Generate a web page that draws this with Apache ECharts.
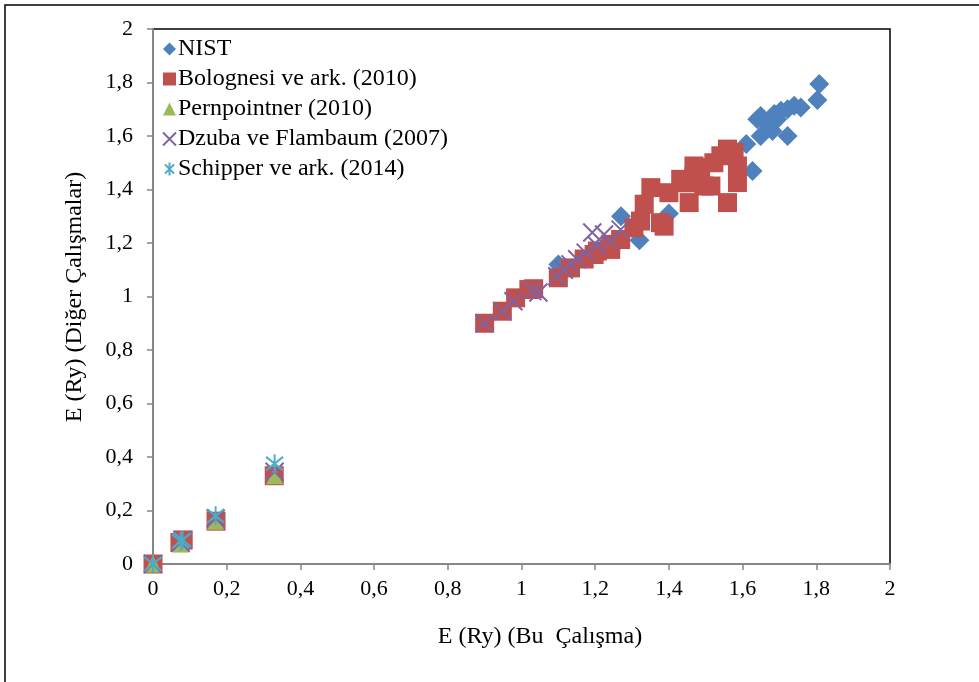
<!DOCTYPE html>
<html>
<head>
<meta charset="utf-8">
<script src="https://cdn.jsdelivr.net/npm/echarts@6/dist/echarts.min.js"></script>
<style>
html,body{margin:0;padding:0;background:#fff;}
#chart{width:979px;height:682px;}
</style>
</head>
<body>
<div id="chart"></div>
<script>
var xTitle = "E (Ry) (Bu  Çalışma)";
var yTitle = "E (Ry) (Diğer Çalışmalar)";
var seriesNames = ["NIST", "Bolognesi ve ark. (2010)", "Pernpointner (2010)", "Dzuba ve Flambaum (2007)", "Schipper ve ark. (2014)"];

var nist = [[1.10,1.12],[1.27,1.30],[1.32,1.21],[1.40,1.31],[1.61,1.57],[1.627,1.469],[1.64,1.663],[1.649,1.675],
  [1.649,1.60],[1.667,1.644],[1.681,1.619],[1.686,1.682],[1.694,1.663],[1.704,1.694],[1.722,1.70],[1.722,1.60],
  [1.74,1.713],[1.758,1.707],[1.803,1.735],[1.808,1.794]];
var bolognesi = [[0,0],[0.073,0.08],[0.082,0.09],[0.171,0.16],[0.329,0.33],
  [0.90,0.90],[0.948,0.945],[0.984,0.995],[1.02,1.026],[1.033,1.029],[1.10,1.07],[1.133,1.107],[1.17,1.14],
  [1.197,1.157],[1.206,1.17],[1.242,1.176],[1.242,1.195],[1.269,1.213],[1.305,1.257],[1.323,1.282],[1.333,1.345],
  [1.351,1.407],[1.377,1.276],[1.387,1.263],[1.40,1.388],[1.432,1.438],[1.45,1.425],[1.455,1.351],[1.468,1.488],
  [1.468,1.451],[1.486,1.482],[1.495,1.413],[1.514,1.413],[1.522,1.50],[1.541,1.526],[1.559,1.551],[1.577,1.538],
  [1.586,1.488],[1.586,1.426],[1.559,1.351]];
var pernpointner = [[0,0],[0.075,0.075],[0.17,0.16],[0.33,0.33]];
var dzuba = [[0,0],[0.075,0.08],[0.08,0.09],[0.17,0.17],[0.33,0.345],
  [0.90,0.90],[0.948,0.945],[0.978,0.982],[1.029,1.02],[1.046,1.015],[1.097,1.076],[1.115,1.10],[1.133,1.12],
  [1.151,1.139],[1.174,1.164],[1.192,1.239],[1.206,1.189],[1.224,1.232],[1.242,1.207],[1.269,1.25]];
var schipper = [[0,0],[0.075,0.085],[0.08,0.09],[0.17,0.18],[0.33,0.375]];

var xTicks = {min:0, max:2, interval:0.2};
var yTicks = {min:0, max:2, interval:0.2};

function fmt(v){ var r = Math.round(v*10)/10; return String(r).replace('.', ','); }

var FONT = '"Liberation Serif", "Times New Roman", serif';
var chart = echarts.init(document.getElementById('chart'), null, {renderer:'canvas'});
var axisGray = '#868686';

var option = {
  animation:false,
  backgroundColor:'#fff',
  grid:{left:153, top:29, right:89, bottom:118, show:true, borderColor:'#000', borderWidth:1.5, backgroundColor:'transparent'},
  xAxis:{type:'value', min:xTicks.min, max:xTicks.max, interval:xTicks.interval,
    axisLine:{show:true, onZero:false, lineStyle:{color:axisGray, width:2}},
    axisTick:{show:true, inside:false, length:6, lineStyle:{color:axisGray, width:1.5}},
    axisLabel:{formatter:fmt, color:'#000', fontFamily:FONT, fontSize:22, margin:14},
    splitLine:{show:false}},
  yAxis:{type:'value', min:yTicks.min, max:yTicks.max, interval:yTicks.interval,
    axisLine:{show:true, onZero:false, lineStyle:{color:axisGray, width:2}},
    axisTick:{show:true, inside:false, length:6, lineStyle:{color:axisGray, width:1.5}},
    axisLabel:{formatter:fmt, color:'#000', fontFamily:FONT, fontSize:22, margin:20},
    splitLine:{show:false}},
  legend:{orient:'vertical', left:157, top:32, itemGap:6, itemWidth:13, itemHeight:13,
    textStyle:{color:'#000', fontFamily:FONT, fontSize:24, padding:[0,0,0,-3]},
    data:seriesNames},
  graphic:[
    {type:'rect', shape:{x:5, y:5, width:990, height:700}, style:{fill:'none', stroke:'#000', lineWidth:1.5}, silent:true, z:-1},
    {type:'text', x:540, y:637, style:{text:xTitle, font:'24px "Liberation Serif"', fill:'#000', textAlign:'center', textVerticalAlign:'middle'}},
    {type:'text', x:75, y:297, rotation:Math.PI/2, style:{text:yTitle, font:'24px "Liberation Serif"', fill:'#000', textAlign:'center', textVerticalAlign:'middle'}}
  ],
  series:[
    {name:seriesNames[0], type:'scatter', data:nist, symbol:'diamond', symbolSize:20,
      itemStyle:{color:'#4F81BD', opacity:1}},
    {name:seriesNames[1], type:'scatter', data:bolognesi, symbol:'rect', symbolSize:19,
      itemStyle:{color:'#C0504D', opacity:1}},
    {name:seriesNames[2], type:'scatter', data:pernpointner, symbol:'triangle', symbolSize:17,
      itemStyle:{color:'#9BBB59', opacity:1}},
    {name:seriesNames[3], type:'scatter', data:dzuba, symbol:'path://M0,0L10,10M10,0L0,10', symbolSize:18,
      itemStyle:{color:'#8064A2', borderColor:'#8064A2', borderWidth:2, opacity:1}},
    {name:seriesNames[4], type:'scatter', data:schipper, symbol:'path://M0,0L10,10M10,0L0,10M5,-2L5,12', symbolSize:[17,19],
      itemStyle:{color:'#4BACC6', borderColor:'#4BACC6', borderWidth:2, opacity:1}}
  ]
};
chart.setOption(option);
</script>
</body>
</html>
